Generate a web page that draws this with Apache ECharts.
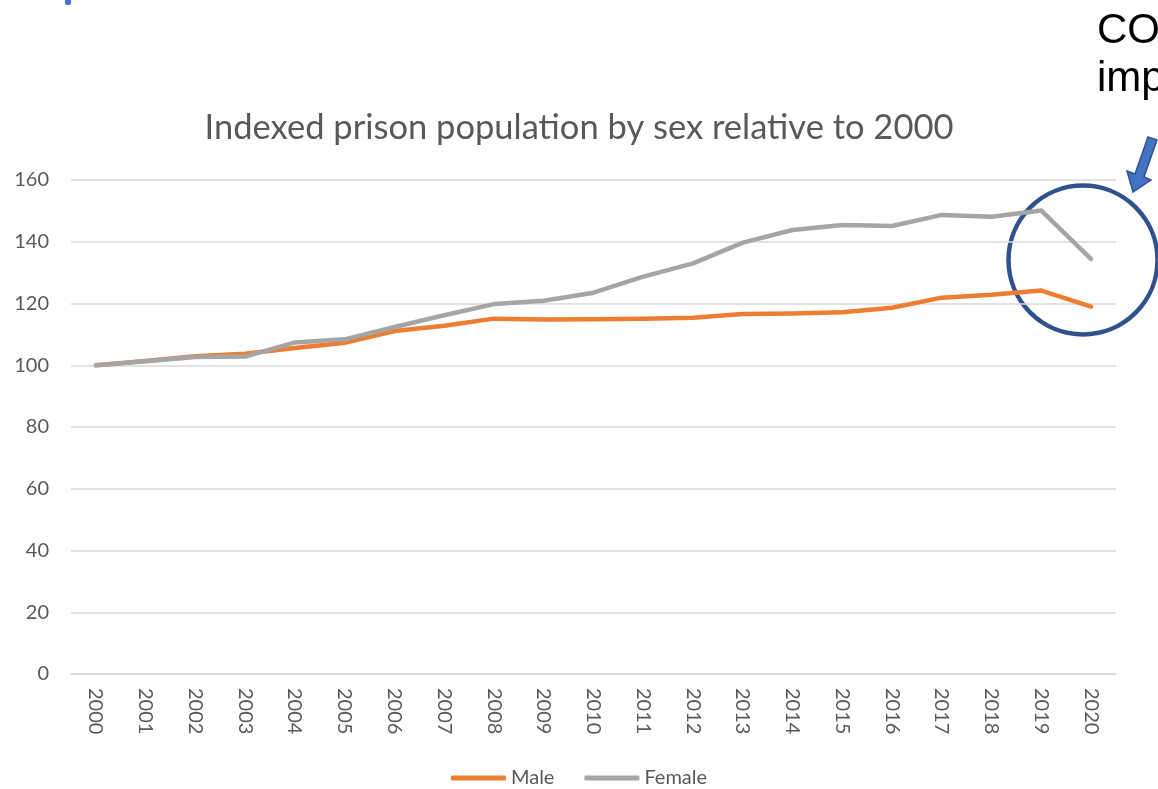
<!DOCTYPE html>
<html>
<head>
<meta charset="utf-8">
<title>Indexed prison population by sex</title>
<script src="https://cdn.jsdelivr.net/npm/echarts@6/dist/echarts.min.js"></script>
<style>
  html, body { margin: 0; padding: 0; background: #fff; }
  #chart { width: 1158px; height: 789px; }
</style>
</head>
<body>
<div id="chart"></div>
<script>
var years = ['2000', '2001', '2002', '2003', '2004', '2005', '2006', '2007', '2008', '2009', '2010',
  '2011', '2012', '2013', '2014', '2015', '2016', '2017', '2018', '2019', '2020']
var male = [100, 101.4, 102.9, 103.7, 105.6, 107.3, 111.1, 112.8, 115.1, 114.8, 114.9,
  115.1, 115.4, 116.6, 116.8, 117.2, 118.6, 121.9, 122.8, 124.2, 119.0]
var female = [100, 101.3, 102.7, 102.8, 107.4, 108.4, 112.4, 116.2, 119.8, 120.9, 123.5,
  128.7, 133.0, 139.7, 143.8, 145.4, 145.1, 148.7, 148.1, 150.1, 134.4]
var yTicks = { min: 0, max: 160, interval: 20 }

var chart = echarts.init(document.getElementById('chart'))

// arrow pointing at the 2020 drop (block arrow from the slide)
var arrowPts = [[1157, 140], [1148, 137], [1135, 174], [1127, 171], [1133, 192], [1151, 180], [1144, 177]]

chart.setOption({
  animation: false,
  textStyle: { fontFamily: 'Lato' },
  title: {
    text: 'Indexed prison population by sex relative to 2000',
    left: 'center',
    top: 105,
    textStyle: {
      color: '#595959',
      fontSize: 34.5,
      fontWeight: 'normal',
      fontFamily: 'Lato'
    }
  },
  grid: {
    left: 71,
    right: 42,
    top: 180,
    bottom: 115
  },
  legend: {
    top: 763,
    left: 'center',
    icon: 'roundRect',
    itemWidth: 55,
    itemHeight: 5,
    itemGap: 30,
    textStyle: { color: '#595959', fontSize: 20, fontFamily: 'Lato' },
    data: ['Male', 'Female']
  },
  xAxis: {
    type: 'category',
    data: years,
    boundaryGap: true,
    axisLine: { lineStyle: { color: '#d9d9d9', width: 1.5 } },
    axisTick: { show: false },
    axisLabel: {
      rotate: -90,
      margin: 14,
      color: '#595959',
      fontSize: 20,
      fontFamily: 'Lato'
    }
  },
  yAxis: {
    type: 'value',
    min: yTicks.min,
    max: yTicks.max,
    interval: yTicks.interval,
    axisLine: { show: false },
    axisTick: { show: false },
    axisLabel: { margin: 22, color: '#595959', fontSize: 20, fontFamily: 'Lato' },
    splitLine: { lineStyle: { color: '#d9d9d9', width: 1.5 } }
  },
  series: [{
    name: 'Male',
    type: 'line',
    data: male,
    showSymbol: false,
    symbol: 'none',
    itemStyle: { color: '#ED7D31' },
    lineStyle: { color: '#ED7D31', width: 4.5, cap: 'round', join: 'round' }
  }, {
    name: 'Female',
    type: 'line',
    data: female,
    showSymbol: false,
    symbol: 'none',
    itemStyle: { color: '#A5A5A5' },
    lineStyle: { color: '#A5A5A5', width: 4.5, cap: 'round', join: 'round' }
  }],
  graphic: [{
    // bit of slide heading poking in at the top
    type: 'rect',
    shape: { x: 65, y: -4, width: 6, height: 9, r: 2 },
    style: { fill: '#4472C4' }
  }, {
    type: 'text',
    left: 1097,
    top: 7,
    style: {
      text: 'COVID\nimpact',
      fill: '#000000',
      font: '42px "Liberation Sans"',
      lineHeight: 48
    }
  }, {
    type: 'circle',
    shape: { cx: 1083, cy: 260, r: 74.5 },
    style: { fill: 'none', stroke: '#2F528F', lineWidth: 4.5 }
  }, {
    type: 'polygon',
    shape: { points: arrowPts },
    style: { fill: '#4472C4', stroke: '#2F528F', lineWidth: 1.5 }
  }]
})
</script>
</body>
</html>
